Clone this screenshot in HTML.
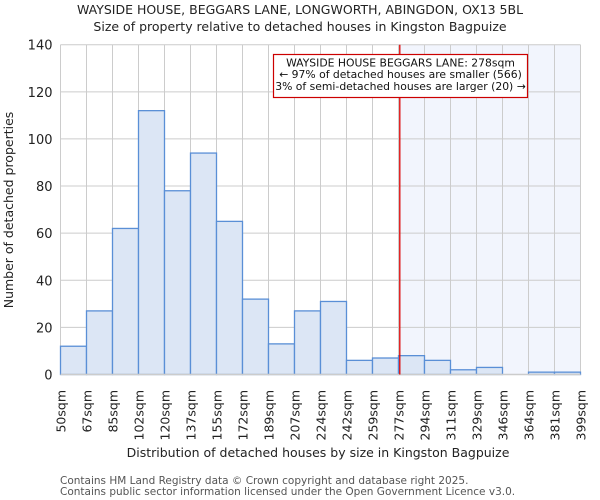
<!DOCTYPE html>
<html><head><meta charset="utf-8"><style>
body{margin:0;background:#fff}
svg{display:block;font-family:"DejaVu Sans","Liberation Sans",sans-serif}
</style></head><body>
<svg id="c" width="600" height="500">
<text x="300" y="14" text-anchor="middle" font-size="12.5" fill="#222">WAYSIDE HOUSE, BEGGARS LANE, LONGWORTH, ABINGDON, OX13 5BL</text>
<text x="300" y="31" text-anchor="middle" font-size="12.5" fill="#222">Size of property relative to detached houses in Kingston Bagpuize</text>
<g id="plot"></g>
<text x="318" y="457" text-anchor="middle" font-size="12.5" fill="#222">Distribution of detached houses by size in Kingston Bagpuize</text>
<text transform="translate(13,210) rotate(-90)" text-anchor="middle" font-size="12.5" fill="#222">Number of detached properties</text>
<text x="60" y="484" font-size="10.5" fill="#555">Contains HM Land Registry data © Crown copyright and database right 2025.</text>
<text x="60" y="495" font-size="10.5" fill="#555">Contains public sector information licensed under the Open Government Licence v3.0.</text>
</svg>
<script>
const binLabels=["50sqm","67sqm","85sqm","102sqm","120sqm","137sqm","155sqm","172sqm","189sqm","207sqm","224sqm","242sqm","259sqm","277sqm","294sqm","311sqm","329sqm","346sqm","364sqm","381sqm","399sqm"];
const counts=[12,27,62,112,78,94,65,32,13,27,31,6,7,8,6,2,3,0,1,1];
const yTicks=[0,20,40,60,80,100,120,140];
const markerBin=13.05;
const L=60.5,R=580.5,T=44.7,B=374.5,yMax=140;
const ns="http://www.w3.org/2000/svg";
const g=document.getElementById('plot');
const bw=(R-L)/counts.length;
const x=i=>L+i*bw;
const y=v=>B-(v/yMax)*(B-T);
function mk(t,a){const e=document.createElementNS(ns,t);for(const k in a)e.setAttribute(k,a[k]);g.appendChild(e);return e;}
const hl=mk('rect',{x:x(markerBin),y:T,width:R-x(markerBin),height:B-T,fill:'#f2f5fd'});


yTicks.forEach(t=>{
 const l=mk('line',{x1:L,x2:R,y1:y(t),y2:y(t),stroke:'#ccc','stroke-width':1});
 
 
 const tx=mk('text',{x:L-8,y:y(t)+5,'text-anchor':'end','font-size':13,fill:'#222'});
 tx.textContent=t;
 
 
});
binLabels.forEach((s,i)=>{
 const l=mk('line',{x1:x(i),x2:x(i),y1:T,y2:B,stroke:'#ccc','stroke-width':1});
 
 
 const tx=mk('text',{transform:`translate(${x(i)+5},390) rotate(-90)`,'text-anchor':'end','font-size':12.5,fill:'#222'});
 tx.textContent=s;
 
 
});
counts.forEach((v,i)=>{
 if(v<=0)return;
 const r=mk('rect',{x:x(i),y:y(v),width:bw,height:B-y(v),fill:'#dce6f5',stroke:'#5a8fd6','stroke-width':1.3});
 
 
});
const ax=mk('line',{x1:L,x2:R,y1:B,y2:B,stroke:'#ccc','stroke-width':1.5});


const ml=mk('line',{x1:x(markerBin),x2:x(markerBin),y1:T,y2:B,stroke:'#d00','stroke-width':1.3});


const box=mk('rect',{x:273.5,y:54.5,width:254,height:43,fill:'#fff',stroke:'#c00','stroke-width':1.2});


["WAYSIDE HOUSE BEGGARS LANE: 278sqm","← 97% of detached houses are smaller (566)","3% of semi-detached houses are larger (20) →"].forEach((s,i)=>{
 const t=mk('text',{x:400.5,y:66.5+i*11.7,'text-anchor':'middle','font-size':10.8,fill:'#111'});
 t.textContent=s;
 
 
});
</script>
</body></html>
